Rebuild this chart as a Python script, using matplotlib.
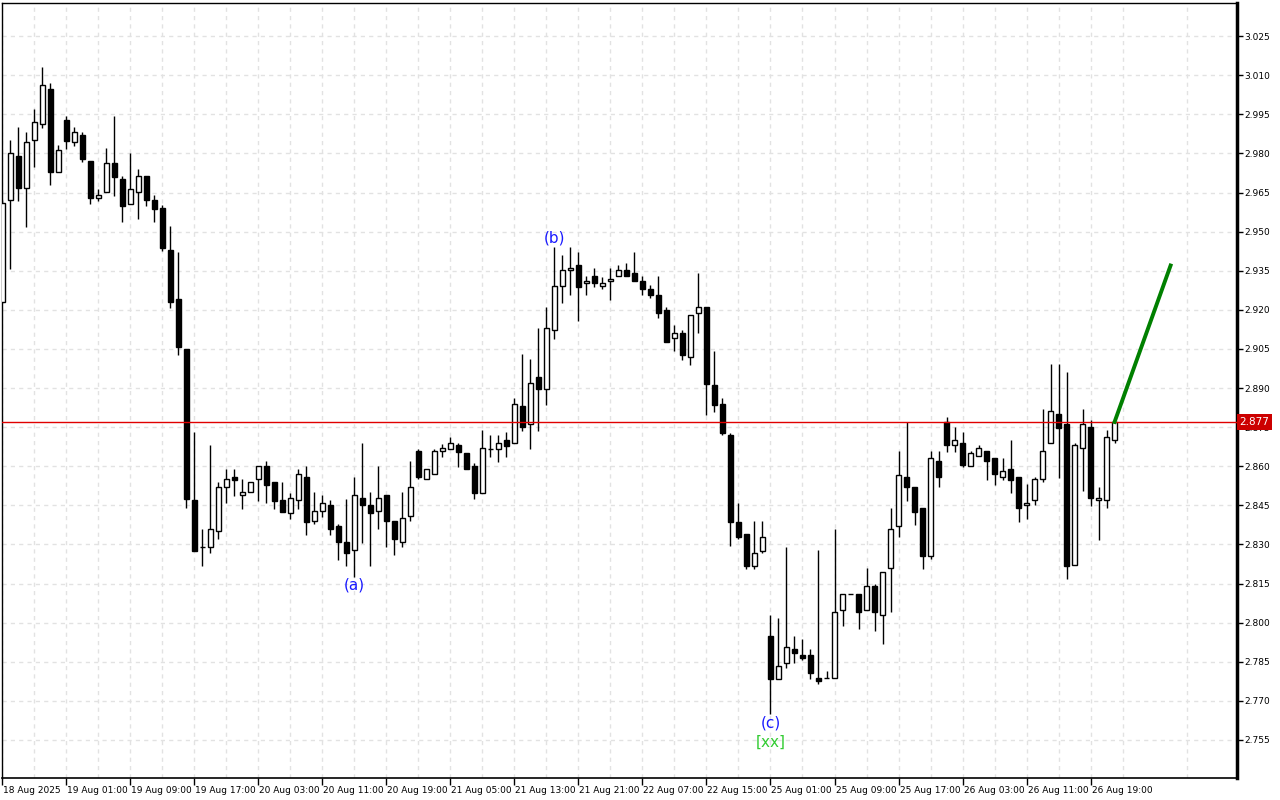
import numpy as np
import matplotlib
matplotlib.use("Agg")
import matplotlib.pyplot as plt
import matplotlib.transforms as mtransforms

# hourly candles, values (open, high, low, close)
opens = [2.9229, 2.9620, 2.9789, 2.9668, 2.9850, 2.9911, 3.0049, 2.9730, 2.9930, 2.9842,
         2.9870, 2.9771, 2.9630, 2.9651, 2.9762, 2.9702, 2.9607, 2.9651, 2.9712, 2.9620,
         2.9590, 2.9428, 2.9240, 2.9048, 2.8470, 2.8289, 2.8289, 2.8350, 2.8519, 2.8559,
         2.8489, 2.8500, 2.8550, 2.8600, 2.8540, 2.8470, 2.8420, 2.8469, 2.8559, 2.8389,
         2.8427, 2.8450, 2.8371, 2.8308, 2.8278, 2.8477, 2.8450, 2.8427, 2.8489, 2.8390,
         2.8308, 2.8409, 2.8657, 2.8550, 2.8570, 2.8657, 2.8667, 2.8680, 2.8650, 2.8600,
         2.8498, 2.8667, 2.8667, 2.8699, 2.8688, 2.8830, 2.8761, 2.8942, 2.8897, 2.9121,
         2.9290, 2.9351, 2.9372, 2.9302, 2.9330, 2.9290, 2.9309, 2.9330, 2.9351, 2.9341,
         2.9309, 2.9279, 2.9258, 2.9199, 2.9091, 2.9110, 2.9018, 2.9189, 2.9211, 2.8911,
         2.8839, 2.8719, 2.8387, 2.8339, 2.8218, 2.8276, 2.7948, 2.7785, 2.7847, 2.7898,
         2.7877, 2.7877, 2.7787, 2.7787, 2.7787, 2.8048, 2.8109, 2.8109, 2.8048, 2.8140,
         2.8028, 2.8209, 2.8370, 2.8558, 2.8519, 2.8439, 2.8257, 2.8619, 2.8768, 2.8680,
         2.8688, 2.8600, 2.8638, 2.8657, 2.8630, 2.8558, 2.8588, 2.8558, 2.8450, 2.8469,
         2.8550, 2.8688, 2.8800, 2.8761, 2.8220, 2.8669, 2.8749, 2.8469, 2.8469, 2.8699]
highs = [2.9621, 2.9851, 2.9901, 2.9882, 2.9969, 3.0131, 3.0072, 2.9832, 2.9943, 2.9901,
         2.9882, 2.9771, 2.9663, 2.9820, 2.9943, 2.9712, 2.9801, 2.9740, 2.9712, 2.9640,
         2.9601, 2.9521, 2.9422, 2.9048, 2.8731, 2.8359, 2.8683, 2.8540, 2.8588, 2.8591,
         2.8550, 2.8540, 2.8600, 2.8620, 2.8540, 2.8540, 2.8498, 2.8591, 2.8601, 2.8501,
         2.8489, 2.8470, 2.8378, 2.8475, 2.8559, 2.8689, 2.8501, 2.8601, 2.8489, 2.8390,
         2.8501, 2.8620, 2.8667, 2.8591, 2.8667, 2.8685, 2.8712, 2.8688, 2.8650, 2.8611,
         2.8739, 2.8719, 2.8719, 2.8731, 2.8861, 2.9030, 2.9011, 2.9131, 2.9210, 2.9440,
         2.9409, 2.9440, 2.9420, 2.9331, 2.9359, 2.9325, 2.9359, 2.9372, 2.9379, 2.9420,
         2.9330, 2.9294, 2.9330, 2.9210, 2.9142, 2.9122, 2.9179, 2.9342, 2.9211, 2.9041,
         2.8862, 2.8729, 2.8458, 2.8339, 2.8389, 2.8389, 2.8028, 2.8017, 2.8290, 2.7948,
         2.7936, 2.7898, 2.8278, 2.7816, 2.8358, 2.8109, 2.8109, 2.8109, 2.8209, 2.8150,
         2.8196, 2.8439, 2.8657, 2.8770, 2.8519, 2.8439, 2.8658, 2.8658, 2.8789, 2.8750,
         2.8731, 2.8658, 2.8682, 2.8657, 2.8630, 2.8630, 2.8699, 2.8558, 2.8531, 2.8558,
         2.8819, 2.8992, 2.8992, 2.8961, 2.8688, 2.8819, 2.8779, 2.8519, 2.8738, 2.8770]
lows = [2.9226, 2.9356, 2.9618, 2.9519, 2.9748, 2.9898, 2.9679, 2.9730, 2.9818, 2.9829,
        2.9768, 2.9607, 2.9617, 2.9651, 2.9637, 2.9538, 2.9607, 2.9549, 2.9599, 2.9538,
        2.9427, 2.9208, 2.9028, 2.8438, 2.8276, 2.8218, 2.8268, 2.8320, 2.8458, 2.8487,
        2.8437, 2.8500, 2.8468, 2.8458, 2.8437, 2.8426, 2.8399, 2.8437, 2.8337, 2.8378,
        2.8406, 2.8337, 2.8240, 2.8218, 2.8176, 2.8304, 2.8218, 2.8358, 2.8289, 2.8258,
        2.8289, 2.8389, 2.8550, 2.8550, 2.8570, 2.8637, 2.8667, 2.8598, 2.8588, 2.8475,
        2.8498, 2.8637, 2.8617, 2.8637, 2.8688, 2.8736, 2.8667, 2.8736, 2.8836, 2.9089,
        2.9227, 2.9258, 2.9158, 2.9258, 2.9289, 2.9279, 2.9238, 2.9330, 2.9330, 2.9309,
        2.9258, 2.9246, 2.9168, 2.9078, 2.9041, 2.9009, 2.8988, 2.9110, 2.8798, 2.8808,
        2.8719, 2.8295, 2.8320, 2.8207, 2.8207, 2.8268, 2.7649, 2.7785, 2.7827, 2.7847,
        2.7858, 2.7785, 2.7766, 2.7787, 2.7787, 2.7988, 2.8109, 2.7977, 2.8048, 2.7967,
        2.7917, 2.8040, 2.8327, 2.8468, 2.8376, 2.8206, 2.8244, 2.8519, 2.8656, 2.8656,
        2.8598, 2.8600, 2.8638, 2.8548, 2.8529, 2.8548, 2.8498, 2.8387, 2.8399, 2.8450,
        2.8538, 2.8688, 2.8556, 2.8169, 2.8220, 2.8506, 2.8449, 2.8318, 2.8439, 2.8688]
closes = [2.9608, 2.9800, 2.9668, 2.9842, 2.9919, 3.0061, 2.9730, 2.9812, 2.9848, 2.9881,
          2.9778, 2.9630, 2.9639, 2.9762, 2.9710, 2.9599, 2.9662, 2.9712, 2.9620, 2.9588,
          2.9438, 2.9229, 2.9058, 2.8475, 2.8276, 2.8289, 2.8358, 2.8519, 2.8550, 2.8548,
          2.8500, 2.8540, 2.8600, 2.8529, 2.8468, 2.8426, 2.8477, 2.8570, 2.8387, 2.8427,
          2.8458, 2.8358, 2.8308, 2.8268, 2.8489, 2.8450, 2.8420, 2.8477, 2.8389, 2.8320,
          2.8400, 2.8519, 2.8559, 2.8591, 2.8657, 2.8669, 2.8688, 2.8656, 2.8588, 2.8498,
          2.8669, 2.8667, 2.8688, 2.8679, 2.8838, 2.8749, 2.8918, 2.8897, 2.9129, 2.9290,
          2.9351, 2.9359, 2.9289, 2.9309, 2.9302, 2.9302, 2.9319, 2.9351, 2.9330, 2.9309,
          2.9279, 2.9258, 2.9189, 2.9078, 2.9110, 2.9028, 2.9179, 2.9210, 2.8916, 2.8836,
          2.8729, 2.8387, 2.8327, 2.8218, 2.8268, 2.8327, 2.7785, 2.7835, 2.7908, 2.7885,
          2.7863, 2.7808, 2.7778, 2.7787, 2.8040, 2.8109, 2.8109, 2.8040, 2.8140, 2.8040,
          2.8196, 2.8358, 2.8568, 2.8519, 2.8426, 2.8257, 2.8630, 2.8558, 2.8680, 2.8699,
          2.8606, 2.8650, 2.8669, 2.8619, 2.8569, 2.8581, 2.8548, 2.8439, 2.8458, 2.8550,
          2.8657, 2.8811, 2.8748, 2.8218, 2.8680, 2.8761, 2.8477, 2.8477, 2.8711, 2.8770]

time_labels = ["18 Aug 2025", "19 Aug 01:00", "19 Aug 09:00", "19 Aug 17:00", "20 Aug 03:00",
               "20 Aug 11:00", "20 Aug 19:00", "21 Aug 05:00", "21 Aug 13:00", "21 Aug 21:00",
               "22 Aug 07:00", "22 Aug 15:00", "25 Aug 01:00", "25 Aug 09:00", "25 Aug 17:00",
               "26 Aug 03:00", "26 Aug 11:00", "26 Aug 19:00"]

price_ticks = [2.755, 2.770, 2.785, 2.800, 2.815, 2.830, 2.845, 2.860, 2.875, 2.890,
               2.905, 2.920, 2.935, 2.950, 2.965, 2.980, 2.995, 3.010, 3.025]

current_price = 2.877
forecast_x = [139, 146]
forecast_y = [2.877, 2.937]

# wave labels: (bar, price, text, colour)
wave_labels = [(44, 2.8145, "(a)", "#1a1aff"),
               (69, 2.9475, "(b)", "#1a1aff"),
               (96, 2.7615, "(c)", "#1a1aff"),
               (96, 2.7542, "[xx]", "#33cc33")]

o = np.array(opens)
h = np.array(highs)
l = np.array(lows)
c = np.array(closes)
x = np.arange(len(o))

fig = plt.figure(figsize=(12.8, 8), dpi=100)
ax = fig.add_axes([2.3 / 1280, 22 / 800, (1237 - 2.3) / 1280, 775 / 800])

ax.set_xlim(0, 154.3)
ax.set_ylim(2.7404, 3.0377)

# grid every 4 bars and at each price level
ax.set_xticks(np.arange(0, 137, 8))
ax.set_xticks(np.arange(4, 155, 8), minor=True)
ax.set_yticks(price_ticks)
ax.grid(True, which="both", color="#e2e2e2", linestyle=(0, (3, 3)), linewidth=1)
ax.set_axisbelow(True)

# candles
up = c >= o
ax.vlines(x, l, h, color="black", linewidth=1, zorder=2)
ax.bar(x[up], (c - o)[up], bottom=o[up], width=0.55, color="white",
       edgecolor="black", linewidth=1, zorder=3)
ax.bar(x[~up], (o - c)[~up], bottom=c[~up], width=0.55, color="black",
       edgecolor="black", linewidth=1, zorder=3)

# current price line and forecast
ax.axhline(current_price, color="#e00000", linewidth=1, zorder=4)
ax.plot(forecast_x, forecast_y, color="#008000", linewidth=2.8, zorder=5)

for bx, py, txt, col in wave_labels:
    ax.text(bx, py, txt, color=col, fontsize=11, ha="center", va="center", zorder=6)

# axes styling
ax.yaxis.tick_right()
ax.set_yticklabels(["%.3f" % v for v in price_ticks])
ax.set_xticklabels(time_labels)
ax.tick_params(axis="y", which="major", direction="out", length=4, width=1,
               labelsize=6.5, pad=1)
ax.tick_params(axis="x", which="major", direction="out", length=5, width=1,
               labelsize=6.5, pad=1)
ax.tick_params(axis="x", which="minor", length=0)
offset = mtransforms.ScaledTranslation(1 / 100, 0, fig.dpi_scale_trans)
for lab in ax.get_xticklabels():
    lab.set_horizontalalignment("left")
    lab.set_transform(lab.get_transform() + offset)

for side in ["left", "top"]:
    ax.spines[side].set_linewidth(1)
ax.spines["right"].set_linewidth(2.5)
ax.spines["bottom"].set_linewidth(1.2)

# current price tag on the price scale, covering the 2.875 label as in the terminal
trans = mtransforms.blended_transform_factory(ax.transAxes, ax.transData)
ax.text(1.002, current_price, "2.877", transform=trans, fontsize=7.5, color="white",
        ha="left", va="center", zorder=7, clip_on=False,
        bbox=dict(boxstyle="square,pad=0.25", facecolor="#cc0000", edgecolor="none"))

fig.savefig("out.png", dpi=100)
